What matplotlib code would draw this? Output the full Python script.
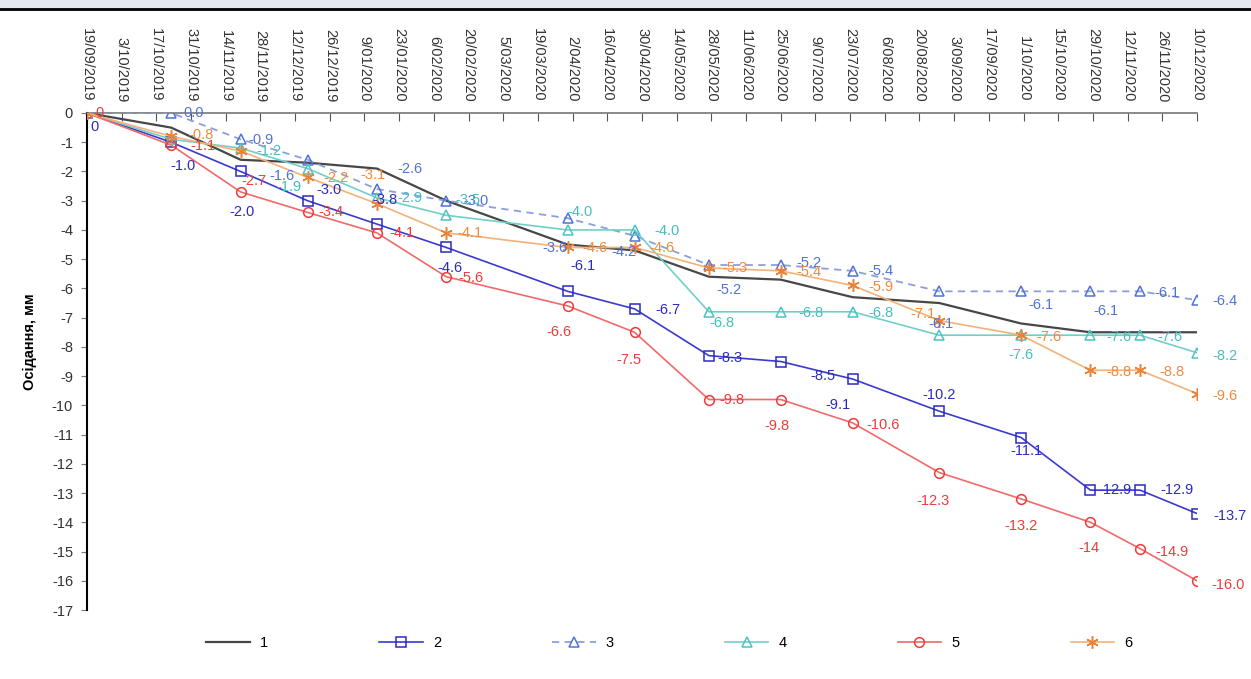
import datetime as dt

import matplotlib.pyplot as plt
from matplotlib.lines import Line2D
from matplotlib.patches import Rectangle

plt.rcParams['font.family'] = ['Liberation Sans', 'DejaVu Sans']
plt.rcParams['axes.unicode_minus'] = False

# ── Survey data (settlement, mm) ──────────────────────────────────────────────
SURVEY_DATES = ['19/09/2019', '23/10/2019', '20/11/2019', '17/12/2019',
                '14/01/2020', '11/02/2020', '31/03/2020', '27/04/2020',
                '27/05/2020', '25/06/2020', '24/07/2020', '28/08/2020',
                '30/09/2020', '28/10/2020', '17/11/2020', '10/12/2020']

MARK_NAMES = ['1', '2', '3', '4', '5', '6']

MARK_1 = [0.0, -0.5, -1.6, -1.7, -1.9, -3.0, -4.5, -4.7,
          -5.6, -5.7, -6.3, -6.5, -7.2, -7.5, -7.5, -7.5]
MARK_2 = [0.0, -1.0, -2.0, -3.0, -3.8, -4.6, -6.1, -6.7,
          -8.3, -8.5, -9.1, -10.2, -11.1, -12.9, -12.9, -13.7]
MARK_3 = [0.0, 0.0, -0.9, -1.6, -2.6, -3.0, -3.6, -4.2,
          -5.2, -5.2, -5.4, -6.1, -6.1, -6.1, -6.1, -6.4]
MARK_4 = [0.0, -0.9, -1.2, -1.9, -2.9, -3.5, -4.0, -4.0,
          -6.8, -6.8, -6.8, -7.6, -7.6, -7.6, -7.6, -8.2]
MARK_5 = [0.0, -1.1, -2.7, -3.4, -4.1, -5.6, -6.6, -7.5,
          -9.8, -9.8, -10.6, -12.3, -13.2, -14.0, -14.9, -16.0]
MARK_6 = [0.0, -0.8, -1.3, -2.2, -3.1, -4.1, -4.6, -4.6,
          -5.3, -5.4, -5.9, -7.1, -7.6, -8.8, -8.8, -9.6]

# ── Point labels: (point index, dx px, dy px[, short format]) ─────────────────
LBL_2 = [(0, 8, -14, 'g'), (1, 12, -24), (2, 1, -41), (3, 21, 11), (4, 8, 24),
         (5, 4, -21), (6, 15, 25), (7, 33, -1), (8, 21, -2), (9, 42, -14),
         (10, -15, -26), (11, 0, 16), (12, 5, -13), (13, 25, 0), (14, 37, 0),
         (15, 33, -2)]
LBL_3 = [(1, 22, 0), (2, 20, -1), (3, -26, -16), (4, 33, 20), (5, 30, 0),
         (6, -13, -30), (7, -11, -16), (8, 20, -25), (9, 28, 2), (10, 28, 0),
         (11, 2, -33), (12, 20, -14), (13, 15, -20), (14, 27, -2), (15, 28, -1)]
LBL_4 = [(2, 28, -3), (3, -19, -18), (4, 33, 0), (5, 22, 15), (6, 12, 18),
         (7, 32, -1), (8, 13, -11), (9, 30, -1), (10, 28, -1), (12, 0, -20),
         (13, 28, -2), (14, 30, -2), (15, 28, -3)]
LBL_5 = [(0, 13, 0, 'g'), (1, 32, -1), (2, 13, 11), (3, 23, 0), (4, 25, 0),
         (5, 25, -1), (6, -9, -26), (7, -6, -28), (8, 23, 0), (9, -4, -26),
         (10, 30, -2), (11, -6, -28), (12, 0, -27), (13, -2, -26, 'g'),
         (14, 32, -3), (15, 31, -4)]
LBL_6 = [(1, 30, 1), (3, 28, -1), (4, -4, 29), (5, 24, 0), (6, 27, -1),
         (7, 27, -1), (8, 26, 0), (9, 28, -1), (10, 28, -2), (11, -16, 7),
         (12, 28, -2), (13, 28, -2), (14, 32, -2), (15, 28, -2)]

FS = 10.5


def parse(d):
    return dt.datetime.strptime(d, '%d/%m/%Y')


def add_labels(ax, x, y, spec, color):
    for item in spec:
        i, dx, dy = item[:3]
        fmt = '{:g}' if len(item) > 3 else '{:.1f}'
        ax.annotate(fmt.format(y[i]), (x[i], y[i]), xytext=(dx, dy),
                    textcoords='offset pixels', ha='center', va='center',
                    fontsize=FS, color=color, zorder=6)


fig = plt.figure(figsize=(12.51, 6.79), dpi=100)
ax = fig.add_axes([87 / 1251, 1 - 610 / 679, 1110 / 1251, 497 / 679])

# window strip above the chart
fig.add_artist(Rectangle((0, 1 - 8 / 679), 1, 8 / 679, transform=fig.transFigure,
                         color='#E4E8EF', zorder=0))
fig.add_artist(Line2D([0, 1], [1 - 9 / 679] * 2, transform=fig.transFigure,
                      color='black', lw=2))

x = [parse(d) for d in SURVEY_DATES]

l1, = ax.plot(x, MARK_1, color='#474747', lw=1.6, zorder=2)
l2, = ax.plot(x, MARK_2, color='#3A3ACF', lw=1.2, marker='s', ms=7,
              mfc='none', mec='#2B2BC0', mew=1.1, zorder=3)
l3, = ax.plot(x, MARK_3, color='#8C9FD8', lw=1.3, ls=(0, (4, 3)), marker='^',
              ms=7.5, mfc='none', mec='#4F73D9', mew=1.1, zorder=3)
l4, = ax.plot(x, MARK_4, color='#72CFC8', lw=1.2, marker='^', ms=7.5,
              mfc='none', mec='#4CC3C3', mew=1.1, zorder=3)
l5, = ax.plot(x, MARK_5, color='#F06A6A', lw=1.2, marker='o', ms=7,
              mfc='none', mec='#EE3B3B', mew=1.1, zorder=3)
l6, = ax.plot(x, MARK_6, color='#F2B27A', lw=1.2, marker=(6, 2, 0), ms=9,
              mec='#E8833A', mew=1.1, zorder=3)

add_labels(ax, x, MARK_2, LBL_2, '#2B2BC0')
add_labels(ax, x, MARK_3, LBL_3, '#4F73D9')
add_labels(ax, x, MARK_4, LBL_4, '#45BFBF')
add_labels(ax, x, MARK_5, LBL_5, '#EE3B3B')
add_labels(ax, x, MARK_6, LBL_6, '#F08A3C')

# date axis along the zero line, labels on top
start, end = x[0], x[-1]
ticks = []
t = start
while t <= end:
    ticks.append(t)
    t += dt.timedelta(days=14)
ax.set_xlim(start, end)
ax.set_xticks(ticks)
ax.set_xticklabels([f'{d.day}/{d.month:02d}/{d.year}' for d in ticks],
                   rotation=270, fontsize=FS, color='#333333')
ax.xaxis.tick_top()
ax.tick_params(axis='x', direction='in', length=6, pad=8, color='#555555')

ax.set_ylim(-17, 0)
ax.set_yticks(range(0, -18, -1))
ax.tick_params(axis='y', direction='out', length=4, pad=6, color='#777777',
               labelsize=FS, labelcolor='#333333')
ax.set_ylabel('Осідання, мм', fontsize=FS, fontweight='bold')
ax.yaxis.set_label_coords(-0.045, 0.54)

ax.spines['right'].set_visible(False)
ax.spines['bottom'].set_visible(False)
ax.spines['top'].set_color('#777777')
ax.spines['top'].set_linewidth(1.2)
ax.spines['left'].set_color('black')
ax.spines['left'].set_linewidth(1.5)

fig.legend([l1, l2, l3, l4, l5, l6], MARK_NAMES, loc='center',
           bbox_to_anchor=(0.535, 1 - 643 / 679), ncol=6, frameon=False,
           fontsize=FS, handlelength=3.0, handletextpad=0.7, columnspacing=7.6)

fig.savefig('out.png', dpi=100)
